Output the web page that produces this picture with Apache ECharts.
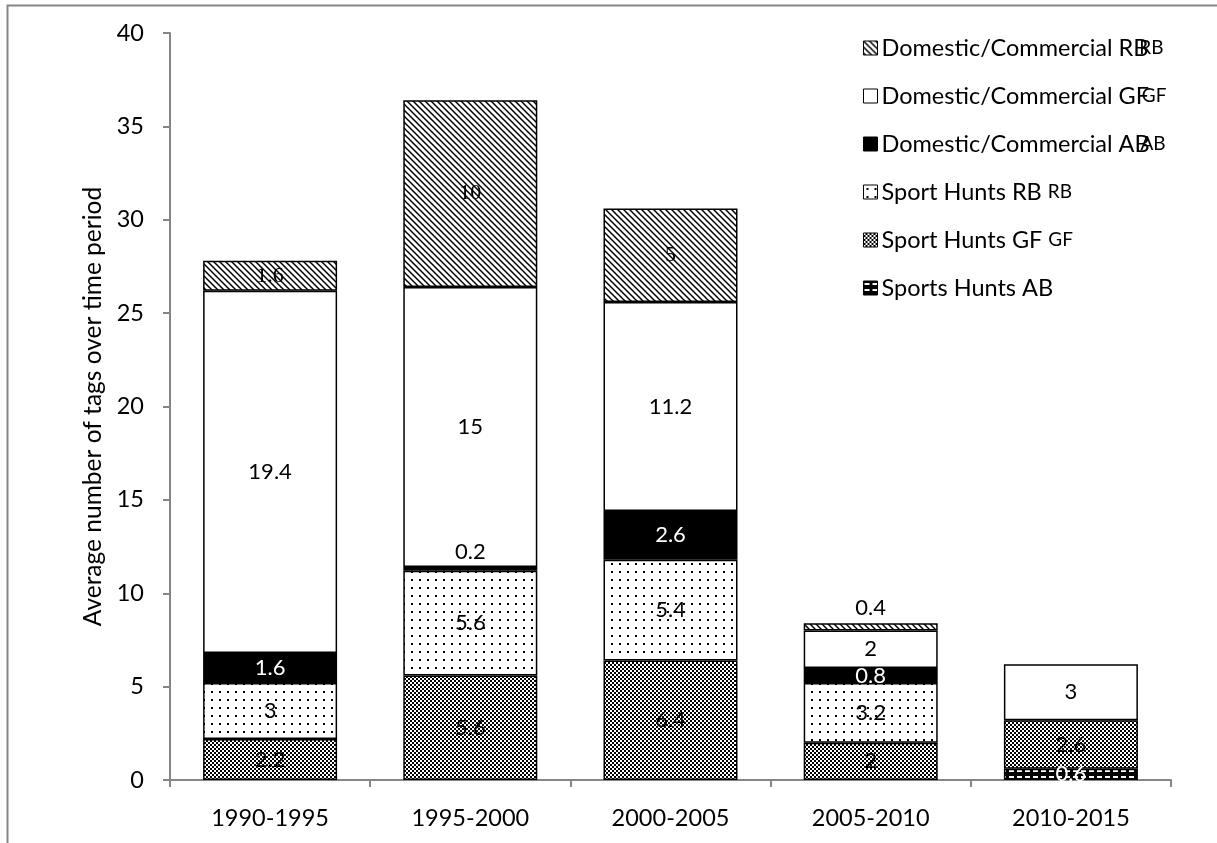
<!DOCTYPE html>
<html>
<head>
<meta charset="utf-8">
<script src="https://cdn.jsdelivr.net/npm/echarts@6/dist/echarts.min.js"></script>
<style>
  html, body { margin: 0; padding: 0; background: #fff; }
  #chart { width: 1217px; height: 843px; }
</style>
</head>
<body>
<div id="chart"></div>
<script>
// Time periods and tag counts per source (stack order: bottom to top)
const categories = ['1990-1995', '1995-2000', '2000-2005', '2005-2010', '2010-2015'];
const sportsHuntsAB = [0, 0, 0, 0, 0.6];
const sportHuntsGF = [2.2, 5.6, 6.4, 2, 2.6];
const sportHuntsRB = [3, 5.6, 5.4, 3.2, 0];
const domCommAB = [1.6, 0.2, 2.6, 0.8, 0];
const domCommGF = [19.4, 15, 11.2, 2, 3];
const domCommRB = [1.6, 10, 5, 0.4, 0];
const yTicks = [0, 5, 10, 15, 20, 25, 30, 35, 40];

const FONT = 'Lato';
const FS = 23.5;

// Fill patterns drawn on small canvases
function tile(w, h, draw) {
  const c = document.createElement('canvas');
  c.width = w; c.height = h;
  const g = c.getContext('2d');
  draw(g, w, h);
  return { image: c, repeat: 'repeat' };
}
const hatchFill = tile(6, 6, (g, w, h) => {
  g.fillStyle = '#fff'; g.fillRect(0, 0, w, h);
  g.strokeStyle = '#000'; g.lineWidth = 1.5;
  g.beginPath();
  g.moveTo(-1, -1); g.lineTo(w + 1, h + 1);
  g.moveTo(-1, h - 1); g.lineTo(1, h + 1);
  g.moveTo(w - 1, -1); g.lineTo(w + 1, 1);
  g.stroke();
});
const dotFill = tile(8, 8, (g, w, h) => {
  g.fillStyle = '#fff'; g.fillRect(0, 0, w, h);
  g.fillStyle = '#000'; g.fillRect(3, 3, 2, 2);
});
const checkFill = tile(4, 4, (g, w, h) => {
  g.fillStyle = '#000'; g.fillRect(0, 0, w, h);
  g.fillStyle = '#fff'; g.fillRect(0, 0, 2, 2); g.fillRect(2, 2, 2, 2);
});
const dashFill = tile(8, 6, (g, w, h) => {
  g.fillStyle = '#000'; g.fillRect(0, 0, w, h);
  g.fillStyle = '#fff'; g.fillRect(1, 2, 5, 2);
});

function seriesOf(name, values, fill, labelColor, labelFont, z) {
  return {
    name: name,
    type: 'bar',
    stack: 'tags',
    barWidth: 134,
    z: z || 2,
    itemStyle: { color: fill, borderColor: '#000', borderWidth: 1.5 },
    label: {
      show: true,
      position: 'inside',
      color: labelColor,
      fontFamily: labelFont || FONT,
      fontSize: 22
    },
    data: values.map(v => v === 0 ? '-' :
      (v < 0.5 ? { value: v, label: { position: 'top', distance: 4, color: '#000', fontFamily: FONT } } : v))
  };
}

const series = [
  seriesOf('Sports Hunts AB', sportsHuntsAB, dashFill, '#fff'),
  seriesOf('Sport Hunts GF', sportHuntsGF, checkFill, '#000'),
  seriesOf('Sport Hunts RB', sportHuntsRB, dotFill, '#000'),
  seriesOf('Domestic/Commercial AB', domCommAB, '#000', '#fff', null, 3),
  seriesOf('Domestic/Commercial GF', domCommGF, '#fff', '#000'),
  seriesOf('Domestic/Commercial RB', domCommRB, hatchFill, '#000', 'Liberation Serif')
];

// Legend entries, top to bottom, with their trailing echo text
const legendRows = [
  ['Domestic/Commercial RB', 'RB', true],
  ['Domestic/Commercial GF', 'GF', true],
  ['Domestic/Commercial AB', 'AB', true],
  ['Sport Hunts RB', 'RB', false],
  ['Sport Hunts GF', 'GF', false],
  ['Sports Hunts AB', '', false]
];

const chart = echarts.init(document.getElementById('chart'));
chart.setOption({
  animation: false,
  backgroundColor: '#fff',
  textStyle: { fontFamily: FONT },
  graphic: [{
    type: 'rect', silent: true, z: -10,
    shape: { x: 7.5, y: 5.5, width: 1400, height: 1000 },
    style: { fill: 'none', stroke: '#868686', lineWidth: 2 }
  }],
  grid: { left: 170, right: 46, top: 33, bottom: 63 },
  legend: {
    orient: 'vertical',
    left: 858,
    top: 31,
    itemWidth: 14,
    itemHeight: 14,
    itemGap: 24,
    icon: 'rect',
    itemStyle: { borderColor: '#000', borderWidth: 1 },
    data: legendRows.map(r => r[0]),
    formatter: function (name) {
      const row = legendRows.find(r => r[0] === name);
      if (!row[1]) return '{m|' + name + '}';
      if (row[2]) {
        return '{m|' + name.slice(0, -1) + '}{l|' + name.slice(-1) + '}{s|' + row[1] + '}';
      }
      return '{m|' + name + '} {s|' + row[1] + '}';
    },
    textStyle: {
      color: '#000',
      fontFamily: FONT,
      fontSize: FS,
      lineHeight: 24,
      padding: [0, 0, 0, -1],
      rich: {
        m: { fontFamily: FONT, fontSize: FS, color: '#000', lineHeight: 24 },
        l: { fontFamily: FONT, fontSize: FS, color: '#000', width: 6, lineHeight: 24 },
        s: { fontFamily: FONT, fontSize: 19, color: '#000', lineHeight: 24 }
      }
    }
  },
  xAxis: {
    type: 'category',
    data: categories,
    axisLine: { lineStyle: { color: '#868686', width: 2 } },
    axisTick: { show: true, length: 7, lineStyle: { color: '#868686', width: 2 } },
    axisLabel: { color: '#000', fontFamily: FONT, fontSize: FS, margin: 26 }
  },
  yAxis: {
    type: 'value',
    min: 0,
    max: yTicks[yTicks.length - 1],
    interval: yTicks[1] - yTicks[0],
    name: 'Average number of tags over time period',
    nameLocation: 'middle',
    nameRotate: 90,
    nameGap: 62,
    nameTextStyle: { color: '#000', fontFamily: FONT, fontSize: 24.5 },
    splitLine: { show: false },
    axisLine: { show: true, lineStyle: { color: '#868686', width: 2 } },
    axisTick: { show: true, length: 7, lineStyle: { color: '#868686', width: 2 } },
    axisLabel: { color: '#000', fontFamily: FONT, fontSize: FS, margin: 26 }
  },
  series: series
});
</script>
</body>
</html>
